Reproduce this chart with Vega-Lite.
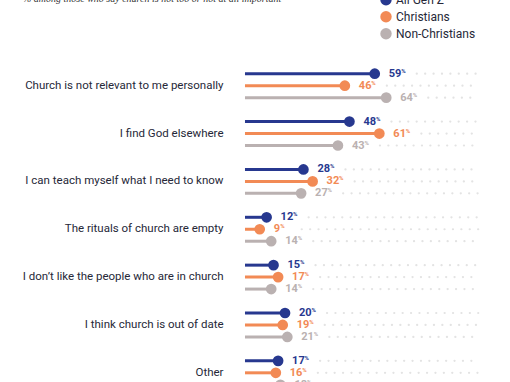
{
  "$schema": "https://vega.github.io/schema/vega-lite/v6.json",
  "width": 271,
  "height": 335,
  "autosize": {"type": "none"},
  "padding": {"left": 239, "top": 61.75, "right": 0, "bottom": 0},
  "background": "white",
  "title": {
    "text": "% among those who say church is not too or not at all important",
    "anchor": "start",
    "frame": "group",
    "orient": "top",
    "dx": -216,
    "offset": -18,
    "baseline": "alphabetic",
    "font": "Liberation Serif",
    "fontStyle": "italic",
    "fontWeight": "normal",
    "fontSize": 10,
    "color": "#333333"
  },
  "config": {"view": {"stroke": null}},
  "data": {
    "values": [
      {"reason": "Church is not relevant to me personally", "group": "All Gen Z", "value": 59},
      {"reason": "Church is not relevant to me personally", "group": "Christians", "value": 46},
      {"reason": "Church is not relevant to me personally", "group": "Non-Christians", "value": 64},
      {"reason": "I find God elsewhere", "group": "All Gen Z", "value": 48},
      {"reason": "I find God elsewhere", "group": "Christians", "value": 61},
      {"reason": "I find God elsewhere", "group": "Non-Christians", "value": 43},
      {"reason": "I can teach myself what I need to know", "group": "All Gen Z", "value": 28},
      {"reason": "I can teach myself what I need to know", "group": "Christians", "value": 32},
      {"reason": "I can teach myself what I need to know", "group": "Non-Christians", "value": 27},
      {"reason": "The rituals of church are empty", "group": "All Gen Z", "value": 12},
      {"reason": "The rituals of church are empty", "group": "Christians", "value": 9},
      {"reason": "The rituals of church are empty", "group": "Non-Christians", "value": 14},
      {"reason": "I don’t like the people who are in church", "group": "All Gen Z", "value": 15},
      {"reason": "I don’t like the people who are in church", "group": "Christians", "value": 17},
      {"reason": "I don’t like the people who are in church", "group": "Non-Christians", "value": 14},
      {"reason": "I think church is out of date", "group": "All Gen Z", "value": 20},
      {"reason": "I think church is out of date", "group": "Christians", "value": 19},
      {"reason": "I think church is out of date", "group": "Non-Christians", "value": 21},
      {"reason": "Other", "group": "All Gen Z", "value": 17},
      {"reason": "Other", "group": "Christians", "value": 16},
      {"reason": "Other", "group": "Non-Christians", "value": 18}
    ]
  },
  "encoding": {
    "y": {
      "field": "reason",
      "type": "nominal",
      "sort": null,
      "scale": {"paddingInner": 0, "paddingOuter": 0},
      "axis": {
        "title": null,
        "domain": false,
        "ticks": false,
        "labelPadding": 16,
        "labelFont": "Roboto",
        "labelFontSize": 11.5,
        "labelColor": "#262838",
        "labelLimit": 300
      }
    },
    "yOffset": {
      "field": "group",
      "type": "nominal",
      "sort": ["All Gen Z", "Christians", "Non-Christians"],
      "scale": {"paddingInner": 0, "paddingOuter": 0.5}
    },
    "x": {"field": "value", "type": "quantitative", "scale": {"domain": [0, 117.8], "nice": false, "zero": false}, "axis": null},
    "color": {
      "field": "group",
      "type": "nominal",
      "scale": {"domain": ["All Gen Z", "Christians", "Non-Christians"], "range": ["#27388f", "#f28a55", "#bab1b1"]},
      "legend": {
        "title": null,
        "orient": "none",
        "legendX": 141,
        "legendY": -68,
        "padding": 0,
        "symbolType": "circle",
        "symbolSize": 130,
        "symbolStrokeWidth": 0,
        "labelFont": "Roboto",
        "labelFontSize": 12,
        "labelColor": "#262838",
        "labelOffset": 4,
        "rowPadding": 5
      }
    }
  },
  "layer": [
    {
      "mark": {"type": "rule", "strokeDash": [0.1, 8.3], "strokeCap": "round", "strokeWidth": 2.2, "xOffset": 42},
      "encoding": {
        "x2": {"datum": 104},
        "color": {"value": "#e3e3e3"}
      }
    },
    {
      "mark": {"type": "rule", "strokeWidth": 3},
      "encoding": {
        "x2": {"datum": 2.6}
      }
    },
    {
      "mark": {"type": "circle", "size": 115, "opacity": 1}
    },
    {
      "mark": {"type": "text", "align": "left", "baseline": "middle", "dx": 14, "font": "Roboto", "fontSize": 11, "fontWeight": "bold"},
      "encoding": {
        "text": {"field": "value", "type": "quantitative"}
      }
    },
    {
      "transform": [{"filter": "datum.value >= 10"}],
      "mark": {"type": "text", "align": "left", "baseline": "middle", "dx": 26.5, "dy": -3, "font": "Roboto", "fontSize": 6, "fontWeight": "bold"},
      "encoding": {
        "text": {"value": "%"}
      }
    },
    {
      "transform": [{"filter": "datum.value < 10"}],
      "mark": {"type": "text", "align": "left", "baseline": "middle", "dx": 20.5, "dy": -3, "font": "Roboto", "fontSize": 6, "fontWeight": "bold"},
      "encoding": {
        "text": {"value": "%"}
      }
    }
  ]
}
